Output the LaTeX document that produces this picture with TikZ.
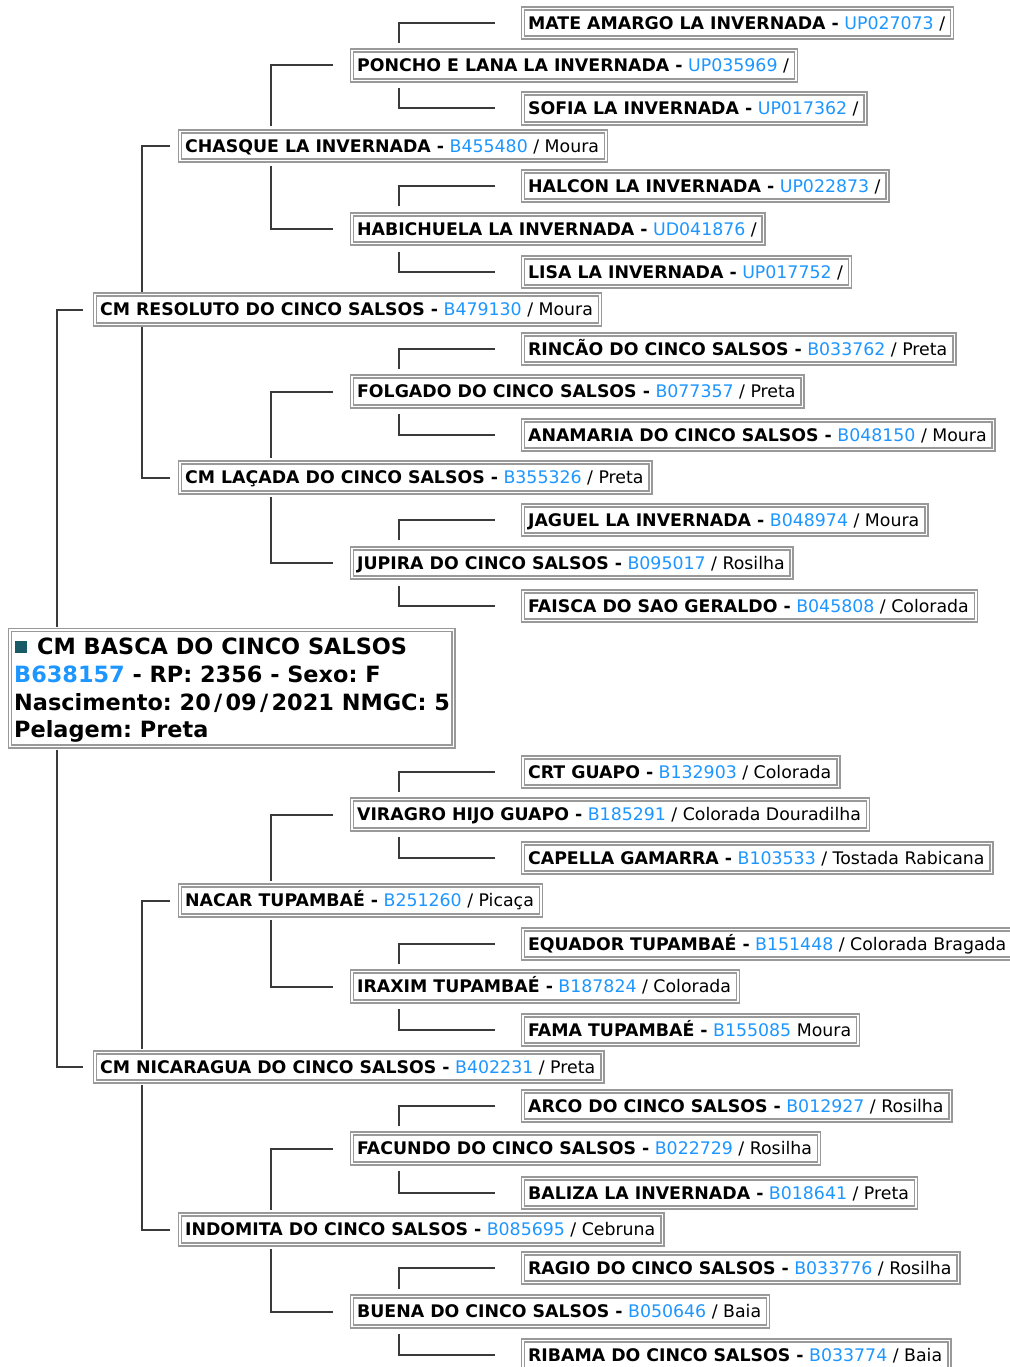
\documentclass[tikz,border=0pt]{standalone}
\usepackage{fontspec}
\setmainfont{DejaVu Sans}
\definecolor{lblue}{HTML}{1E96FF}
\definecolor{bgray}{HTML}{999999}
\definecolor{cgray}{HTML}{3A3A3A}
\definecolor{bullteal}{HTML}{1A5A66}
\newcommand{\cod}[1]{\textcolor{lblue}{#1}}
\newcommand{\wsl}{\kern3.3pt/\kern3.3pt}
\frenchspacing
\begin{document}
\begin{tikzpicture}[x=1pt,y=-1pt,
  box/.style={draw=bgray, double=white, double distance=1.4pt, line width=1.6pt,
    fill=white, anchor=west, inner xsep=5pt, inner ysep=6pt,
    text height=15pt, text depth=2.5pt, font=\fontsize{17.35}{20}\selectfont,
    execute at end node={\kern2pt}},
  rootbox/.style={draw=bgray, double=white, double distance=1.4pt, line width=1.6pt,
    fill=white, anchor=north west, inner sep=0pt, minimum width=443.4pt, minimum height=116.4pt},
  rootline/.style={anchor=base west, inner sep=0pt, font=\fontsize{22.4}{27}\selectfont\bfseries},
  bullet/.style={fill=bullteal, anchor=north west, inner sep=0pt, minimum size=12pt},
  conn/.style={draw=cgray, line width=2pt}]
\useasboundingbox (0,0) rectangle (1009,1367);
% generation 4
\node[box] (mate)     at (522.3,23)    {\textbf{MATE AMARGO LA INVERNADA -} \cod{UP027073} /};
\node[box] (sofia)    at (522.3,108.5) {\textbf{SOFIA LA INVERNADA -} \cod{UP017362} /};
\node[box] (halcon)   at (522.3,186)   {\textbf{HALCON LA INVERNADA -} \cod{UP022873} /};
\node[box] (lisa)     at (522.3,272)   {\textbf{LISA LA INVERNADA -} \cod{UP017752} /};
\node[box] (rincao)   at (522.3,349)   {\textbf{RINCÃO DO CINCO SALSOS -} \cod{B033762} / Preta};
\node[box] (anamaria) at (522.3,435)   {\textbf{ANAMARIA DO CINCO SALSOS -} \cod{B048150} / Moura};
\node[box] (jaguel)   at (522.3,520)   {\textbf{JAGUEL LA INVERNADA -} \cod{B048974} / Moura};
\node[box] (faisca)   at (522.3,606)   {\textbf{FAISCA DO SAO GERALDO -} \cod{B045808} / Colorada};
\node[box] (crt)      at (522.3,772)   {\textbf{CRT GUAPO -} \cod{B132903} / Colorada};
\node[box] (capella)  at (522.3,858)   {\textbf{CAPELLA GAMARRA -} \cod{B103533} / Tostada Rabicana};
\node[box] (equador)  at (522.3,944)   {\textbf{EQUADOR TUPAMBAÉ -} \cod{B151448} / Colorada Bragada};
\node[box] (fama)     at (522.3,1030)  {\textbf{FAMA TUPAMBAÉ -} \cod{B155085} Moura};
\node[box] (arco)     at (522.3,1106)  {\textbf{ARCO DO CINCO SALSOS -} \cod{B012927} / Rosilha};
\node[box] (baliza)   at (522.3,1193)  {\textbf{BALIZA LA INVERNADA -} \cod{B018641} / Preta};
\node[box] (ragio)    at (522.3,1268)  {\textbf{RAGIO DO CINCO SALSOS -} \cod{B033776} / Rosilha};
\node[box] (ribama)   at (522.3,1355)  {\textbf{RIBAMA DO CINCO SALSOS -} \cod{B033774} / Baia};
% generation 3
\node[box] (poncho)     at (351.3,65.5)   {\textbf{PONCHO E LANA LA INVERNADA -} \cod{UP035969} /};
\node[box] (habichuela) at (351.3,229)    {\textbf{HABICHUELA LA INVERNADA -} \cod{UD041876} /};
\node[box] (folgado)    at (351.3,391.5)  {\textbf{FOLGADO DO CINCO SALSOS -} \cod{B077357} / Preta};
\node[box] (jupira)     at (351.3,563)    {\textbf{JUPIRA DO CINCO SALSOS -} \cod{B095017} / Rosilha};
\node[box] (viragro)    at (351.3,814.5)  {\textbf{VIRAGRO HIJO GUAPO -} \cod{B185291} / Colorada Douradilha};
\node[box] (iraxim)     at (351.3,986.5)  {\textbf{IRAXIM TUPAMBAÉ -} \cod{B187824} / Colorada};
\node[box] (facundo)    at (351.3,1148.5) {\textbf{FACUNDO DO CINCO SALSOS -} \cod{B022729} / Rosilha};
\node[box] (buena)      at (351.3,1311.5) {\textbf{BUENA DO CINCO SALSOS -} \cod{B050646} / Baia};
% generation 2
\node[box] (chasque)  at (179.3,146)    {\textbf{CHASQUE LA INVERNADA -} \cod{B455480} / Moura};
\node[box] (lacada)   at (179.3,477.5)  {\textbf{CM LAÇADA DO CINCO SALSOS -} \cod{B355326} / Preta};
\node[box] (nacar)    at (179.3,900.5)  {\textbf{NACAR TUPAMBAÉ -} \cod{B251260} / Picaça};
\node[box] (indomita) at (179.3,1229.5) {\textbf{INDOMITA DO CINCO SALSOS -} \cod{B085695} / Cebruna};
% generation 1
\node[box] (resoluto)  at (94.3,309.5) {\textbf{CM RESOLUTO DO CINCO SALSOS -} \cod{B479130} / Moura};
\node[box] (nicaragua) at (94.3,1067)  {\textbf{CM NICARAGUA DO CINCO SALSOS -} \cod{B402231} / Preta};
% root
\node[rootbox] (root) at (9.3,629.3) {};
\node[bullet] (sq) at (15,641) {};
\node[rootline] (r1) at (37,654) {CM BASCA DO CINCO SALSOS};
\node[rootline] (r2) at (14,682) {\cod{B638157} - RP: 2356 - Sexo: F};
\node[rootline] (r3) at (14,710) {Nascimento: 20\wsl 09\wsl 2021 NMGC: 5};
\node[rootline] (r4) at (14,737) {Pelagem: Preta};
% connectors root -> gen1
\draw[conn] ([shift={(47.7,-2.3)}]root.north west) |- ([xshift=-11.3]resoluto.west);
\draw[conn] ([shift={(47.7,2.3)}]root.south west) |- ([xshift=-11.3]nicaragua.west);
% gen1 -> gen2
\foreach \a/\b/\c in {resoluto/chasque/lacada, nicaragua/nacar/indomita}{
  \draw[conn] ([shift={(47.7,-2.3)}]\a.north west) |- ([xshift=-9.3]\b.west);
  \draw[conn] ([shift={(47.7,2.3)}]\a.south west) |- ([xshift=-9.3]\c.west);
}
% gen2 -> gen3
\foreach \a/\b/\c in {chasque/poncho/habichuela, lacada/folgado/jupira, nacar/viragro/iraxim, indomita/facundo/buena}{
  \draw[conn] ([shift={(91.7,-4.3)}]\a.north west) |- ([xshift=-18.3]\b.west);
  \draw[conn] ([shift={(91.7,4.3)}]\a.south west) |- ([xshift=-18.3]\c.west);
}
% gen3 -> gen4
\foreach \a/\b/\c in {poncho/mate/sofia, habichuela/halcon/lisa, folgado/rincao/anamaria, jupira/jaguel/faisca,
  viragro/crt/capella, iraxim/equador/fama, facundo/arco/baliza, buena/ragio/ribama}{
  \draw[conn] ([shift={(47.7,-7.3)}]\a.north west) |- ([xshift=-27.3]\b.west);
  \draw[conn] ([shift={(47.7,7.3)}]\a.south west) |- ([xshift=-27.3]\c.west);
}
\end{tikzpicture}
\end{document}
